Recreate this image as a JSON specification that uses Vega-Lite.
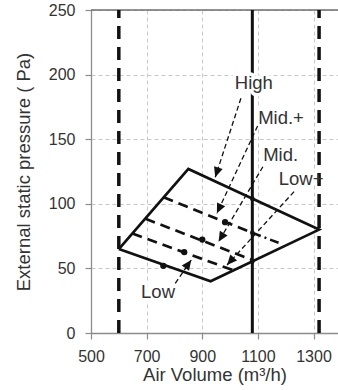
{
  "$schema": "https://vega.github.io/schema/vega-lite/v6.json",
  "width": 247,
  "height": 323,
  "autosize": {"type": "none"},
  "padding": {"left": 91, "top": 10, "right": 0, "bottom": 57},
  "config": {
    "view": {"stroke": null},
    "font": "Liberation Sans",
    "axis": {
      "grid": true,
      "gridColor": "#c8c8c8",
      "gridDash": [4, 3],
      "gridWidth": 1,
      "domainColor": "#8c8c8c",
      "domainWidth": 1.3,
      "tickColor": "#8c8c8c",
      "tickSize": 6,
      "tickWidth": 1.2,
      "labelFont": "Liberation Sans",
      "labelFontSize": 16,
      "labelColor": "#333333",
      "labelFlush": false,
      "titleFont": "Liberation Sans",
      "titleFontSize": 18.5,
      "titleFontWeight": "normal",
      "titleColor": "#333333"
    }
  },
  "datasets": {
    "frame": [{"x": 500, "x2": 1388, "y": 250}],
    "outline": [
      {"x": 600, "y": 65, "o": 1},
      {"x": 850, "y": 127, "o": 2},
      {"x": 1320, "y": 80, "o": 3},
      {"x": 930, "y": 40, "o": 4},
      {"x": 600, "y": 65, "o": 5}
    ],
    "inner": [
      {"speed": "Mid.+", "x": 761, "y": 105, "x2": 1080, "y2": 77.5},
      {"speed": "Mid.", "x": 696, "y": 88.4, "x2": 1080, "y2": 56.5},
      {"speed": "Low+", "x": 649, "y": 77, "x2": 1012, "y2": 48.5}
    ],
    "tail": [
      {"speed": "Mid.+", "x": 1080, "y": 77.5, "x2": 1180, "y2": 69.4}
    ],
    "limits": [{"x": 600, "y": 0, "y2": 250}, {"x": 1320, "y": 0, "y2": 250}],
    "rated": [{"x": 1080, "y": 0, "y2": 250}],
    "dots": [
      {"speed": "Low", "x": 760, "y": 52},
      {"speed": "Low+", "x": 835, "y": 62.6},
      {"speed": "Mid.", "x": 900, "y": 72.3},
      {"speed": "Mid.+", "x": 982, "y": 85.8}
    ],
    "cross": [
      {"x": 1080, "y": 104},
      {"x": 1080, "y": 77.5},
      {"x": 1080, "y": 55.4}
    ],
    "arrows": [
      {"label": "High", "x": 1039, "y": 181.7, "x2": 946.7, "y2": 120.6},
      {"label": "Mid.+", "x": 1099, "y": 160.2, "x2": 952.6, "y2": 92.6},
      {"label": "Mid.", "x": 1118, "y": 128.7, "x2": 958.6, "y2": 70.7},
      {"label": "Low+", "x": 1230, "y": 109.4, "x2": 989, "y2": 52.6},
      {"label": "Low", "x": 803, "y": 38.5, "x2": 860.5, "y2": 56.5}
    ],
    "labels": [
      {"label": "High", "x": 1017, "y": 188.6},
      {"label": "Mid.+", "x": 1101, "y": 161.8},
      {"label": "Mid.", "x": 1119, "y": 133.4},
      {"label": "Low+", "x": 1175, "y": 114.6},
      {"label": "Low", "x": 680, "y": 26.9}
    ]
  },
  "encoding": {
    "x": {
      "field": "x",
      "type": "quantitative",
      "scale": {"domain": [500, 1388], "nice": false, "zero": false},
      "axis": {
        "values": [500, 700, 900, 1100, 1300],
        "format": "d",
        "title": "Air Volume (m³/h)",
        "labelPadding": 9,
        "titlePadding": 1
      }
    },
    "y": {
      "field": "y",
      "type": "quantitative",
      "scale": {"domain": [0, 250], "nice": false, "zero": false},
      "axis": {
        "values": [0, 50, 100, 150, 200, 250],
        "format": "d",
        "title": "External static pressure ( Pa)",
        "labelPadding": 10,
        "titlePadding": 15
      }
    }
  },
  "layer": [
    {
      "data": {"name": "frame"},
      "mark": {"type": "rule", "color": "#6e6e6e", "strokeWidth": 1.3},
      "encoding": {"x2": {"field": "x2"}}
    },
    {
      "data": {"name": "rated"},
      "mark": {"type": "rule", "color": "#111111", "strokeWidth": 3},
      "encoding": {"y2": {"field": "y2"}}
    },
    {
      "data": {"name": "labels"},
      "mark": {"type": "text", "align": "left", "baseline": "alphabetic", "fontSize": 18.5, "fill": "white", "stroke": "white", "strokeWidth": 7, "strokeJoin": "round"},
      "encoding": {"text": {"field": "label"}}
    },
    {
      "data": {"name": "limits"},
      "mark": {"type": "rule", "color": "#111111", "strokeWidth": 3.5, "strokeDash": [13, 8]},
      "encoding": {"y2": {"field": "y2"}}
    },
    {
      "data": {"name": "outline"},
      "mark": {"type": "line", "color": "#111111", "strokeWidth": 2.7, "strokeJoin": "miter"},
      "encoding": {"order": {"field": "o", "type": "quantitative"}}
    },
    {
      "data": {"name": "inner"},
      "mark": {"type": "rule", "color": "#111111", "strokeWidth": 2.7, "strokeDash": [10, 6]},
      "encoding": {"x2": {"field": "x2"}, "y2": {"field": "y2"}}
    },
    {
      "data": {"name": "tail"},
      "mark": {"type": "rule", "color": "#111111", "strokeWidth": 2.5, "strokeDash": [9, 4, 2, 4]},
      "encoding": {"x2": {"field": "x2"}, "y2": {"field": "y2"}}
    },
    {
      "data": {"name": "arrows"},
      "mark": {"type": "rule", "color": "#111111", "strokeWidth": 1.3, "strokeDash": [5, 3]},
      "encoding": {"x2": {"field": "x2"}, "y2": {"field": "y2"}}
    },
    {
      "data": {"name": "arrows"},
      "transform": [{"filter": "datum.label == 'High'"}],
      "mark": {"type": "point", "shape": "M0,0L-0.9,-2L0.9,-2Z", "size": 100, "filled": true, "color": "#111111", "opacity": 1, "angle": 18},
      "encoding": {"x": {"field": "x2", "type": "quantitative"}, "y": {"field": "y2", "type": "quantitative"}}
    },
    {
      "data": {"name": "arrows"},
      "transform": [{"filter": "datum.label == 'Mid.+'"}],
      "mark": {"type": "point", "shape": "M0,0L-0.9,-2L0.9,-2Z", "size": 100, "filled": true, "color": "#111111", "opacity": 1, "angle": 25},
      "encoding": {"x": {"field": "x2", "type": "quantitative"}, "y": {"field": "y2", "type": "quantitative"}}
    },
    {
      "data": {"name": "arrows"},
      "transform": [{"filter": "datum.label == 'Mid.'"}],
      "mark": {"type": "point", "shape": "M0,0L-0.9,-2L0.9,-2Z", "size": 100, "filled": true, "color": "#111111", "opacity": 1, "angle": 31},
      "encoding": {"x": {"field": "x2", "type": "quantitative"}, "y": {"field": "y2", "type": "quantitative"}}
    },
    {
      "data": {"name": "arrows"},
      "transform": [{"filter": "datum.label == 'Low+'"}],
      "mark": {"type": "point", "shape": "M0,0L-0.9,-2L0.9,-2Z", "size": 100, "filled": true, "color": "#111111", "opacity": 1, "angle": 42},
      "encoding": {"x": {"field": "x2", "type": "quantitative"}, "y": {"field": "y2", "type": "quantitative"}}
    },
    {
      "data": {"name": "arrows"},
      "transform": [{"filter": "datum.label == 'Low'"}],
      "mark": {"type": "point", "shape": "M0,0L-0.9,-2L0.9,-2Z", "size": 100, "filled": true, "color": "#111111", "opacity": 1, "angle": 216},
      "encoding": {"x": {"field": "x2", "type": "quantitative"}, "y": {"field": "y2", "type": "quantitative"}}
    },
    {
      "data": {"name": "dots"},
      "mark": {"type": "circle", "size": 40, "color": "#111111", "opacity": 1}
    },
    {
      "data": {"name": "cross"},
      "mark": {"type": "circle", "size": 22, "color": "#111111", "opacity": 1}
    },
    {
      "data": {"name": "labels"},
      "mark": {"type": "text", "align": "left", "baseline": "alphabetic", "fontSize": 18.5, "color": "#333333"},
      "encoding": {"text": {"field": "label"}}
    }
  ]
}
